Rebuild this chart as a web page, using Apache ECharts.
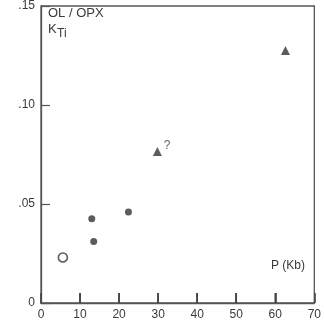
<!DOCTYPE html>
<html><head><meta charset="utf-8">
<script src="https://cdn.jsdelivr.net/npm/echarts@6/dist/echarts.min.js"></script>
<style>html,body{margin:0;padding:0;background:#fff}#c{width:324px;height:330px}</style>
</head><body><div id="c"></div>
<script>
const xTicks = [10,20,30,40,50,60];
const yTickLabels = {'0':'0','0.05':'.05','0.1':'.10','0.15':'.15'};
const openCircle = [[5.6,0.023]];
const filledCircles = [[13.0,0.0425],[13.5,0.031],[22.4,0.046]];
const triangles = [[29.8,0.0765,'?'],[62.6,0.1275,'']];
const title1 = 'OL / OPX';
const xName = 'P (Kb)';
const ink = '#3a3a3a';
const font = 'Liberation Sans';
const chart = echarts.init(document.getElementById('c'));
chart.setOption({
  animation:false,
  grid:{left:41,right:8,top:5,bottom:27,show:true,borderColor:'#555',borderWidth:1.3},
  xAxis:{type:'value',min:0,max:70,interval:10,
    axisLine:{show:true,onZero:false,lineStyle:{color:'#555',width:1.3}},
    axisTick:{show:true,inside:true,length:10,lineStyle:{color:'#444',width:1.6}},
    axisLabel:{color:ink,fontFamily:font,fontSize:12,margin:6},
    splitLine:{show:false}},
  yAxis:{type:'value',min:0,max:0.15,interval:0.05,
    axisLine:{show:true,onZero:false,lineStyle:{color:'#555',width:1.3}},
    axisTick:{show:true,inside:true,length:9,lineStyle:{color:'#555',width:1.2}},
    axisLabel:{color:ink,fontFamily:font,fontSize:12,margin:6,
      formatter:v=>yTickLabels[String(+v.toFixed(2))] ?? ''},
    splitLine:{show:false}},
  graphic:[
    {type:'text',left:48,top:7,style:{text:title1,fill:ink,font:'13px "Liberation Sans"'}},
    {type:'text',left:48,top:23,style:{text:'K',fill:ink,font:'13px "Liberation Sans"'}},
    {type:'text',left:57,top:28,style:{text:'Ti',fill:ink,font:'12px "Liberation Sans"'}},
    {type:'text',left:271,top:260,style:{text:xName,fill:ink,font:'12px "Liberation Sans"'}}
  ],
  series:[
    {type:'custom',silent:true,clip:false,z:10,data:xTicks.map(v=>[v,0]),
     renderItem:(params,api)=>{
       const p = api.coord([api.value(0),api.value(1)]);
       return {type:'rect',shape:{x:p[0]-0.8,y:p[1]-10,width:1.6,height:10},
         style:{fill:'#444'}};
     }},
    {type:'scatter',data:openCircle,symbol:'circle',symbolSize:9,
     itemStyle:{color:'#fff',borderColor:'#333',borderWidth:1.6}},
    {type:'scatter',data:filledCircles,symbol:'circle',symbolSize:7,itemStyle:{color:'#333'}},
    {type:'scatter',data:triangles,symbol:'triangle',symbolSize:9,itemStyle:{color:'#333'},
     label:{show:true,position:'right',distance:2,offset:[0,-6],color:ink,fontFamily:font,fontSize:12,
       formatter:p=>p.data[2]}}
  ]
});
</script></body></html>
